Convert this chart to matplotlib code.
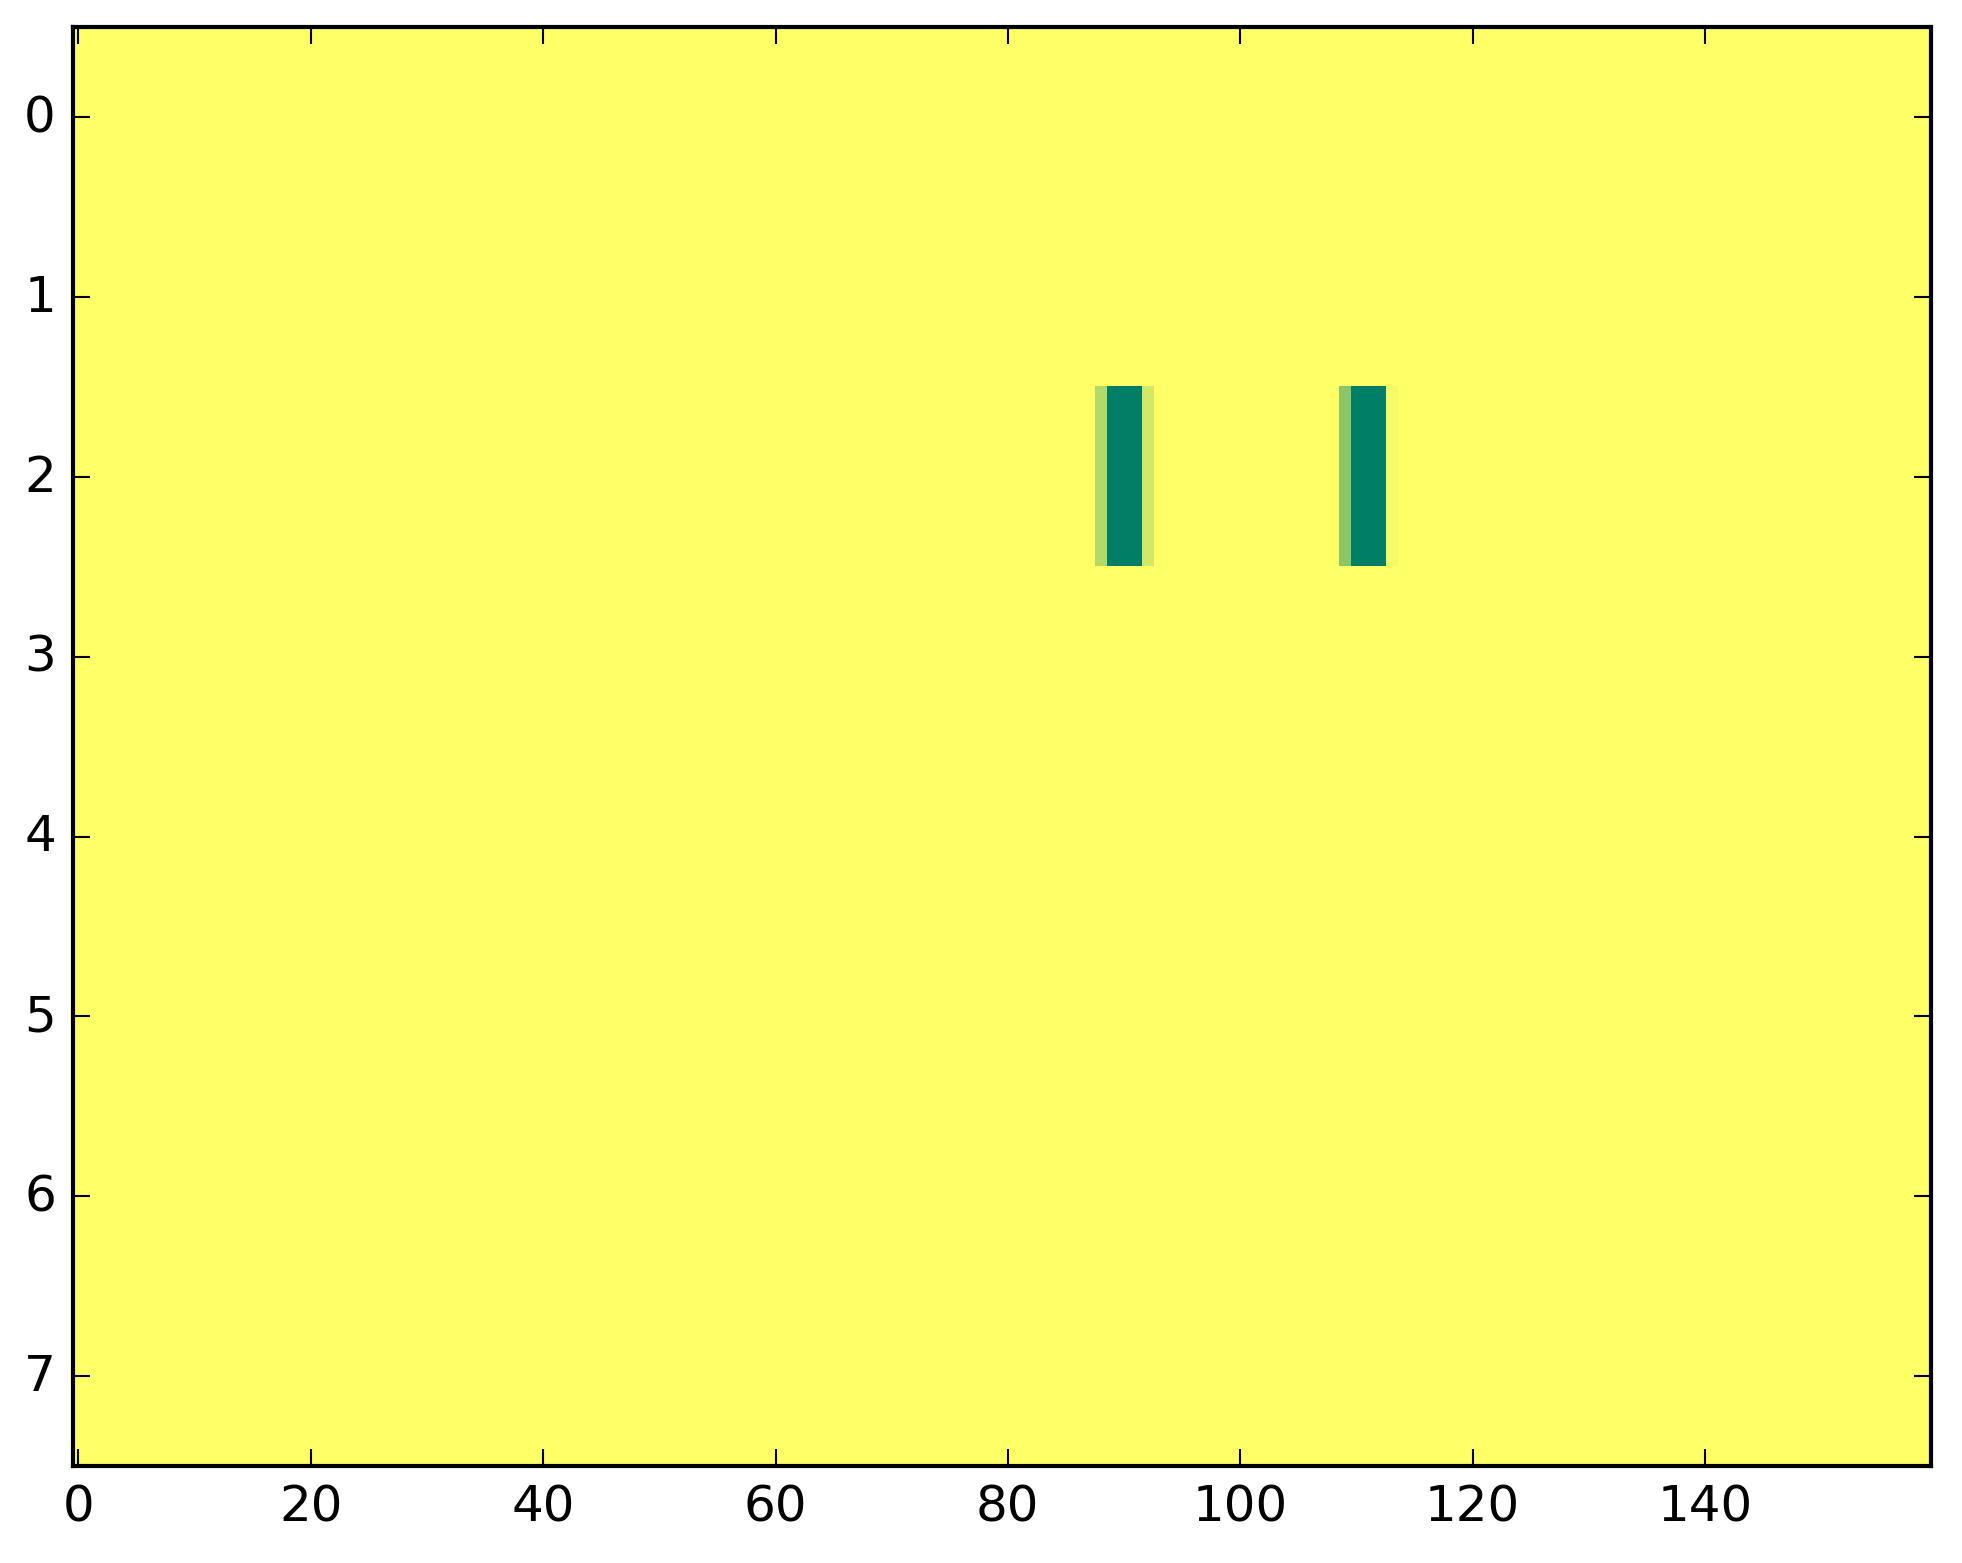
import matplotlib
matplotlib.use('Agg')
import matplotlib.pyplot as plt
import numpy as np

plt.style.use('classic')

n_rows = 8
n_cols = 160
background = 1.0

# row 2 holds the only non-flat values
row_idx = 2
cols = [88, 89, 90, 91, 92, 109, 110, 111, 112, 113]
vals = [0.70, 0.0, 0.0, 0.0, 0.83, 0.55, 0.0, 0.0, 0.0, 0.96]

data = np.full((n_rows, n_cols), background)
for c, v in zip(cols, vals):
    data[row_idx, c] = v

fig = plt.figure(figsize=(6.543, 5.213), dpi=300)
ax = fig.add_axes([0.037, 0.062, 0.947, 0.920])
ax.imshow(data, cmap='summer', aspect='auto', interpolation='nearest',
          vmin=0, vmax=1)
ax.set_xticks(np.arange(0, 160, 20))
ax.set_yticks(np.arange(0, 8))
fig.savefig('out.png', dpi=300)
